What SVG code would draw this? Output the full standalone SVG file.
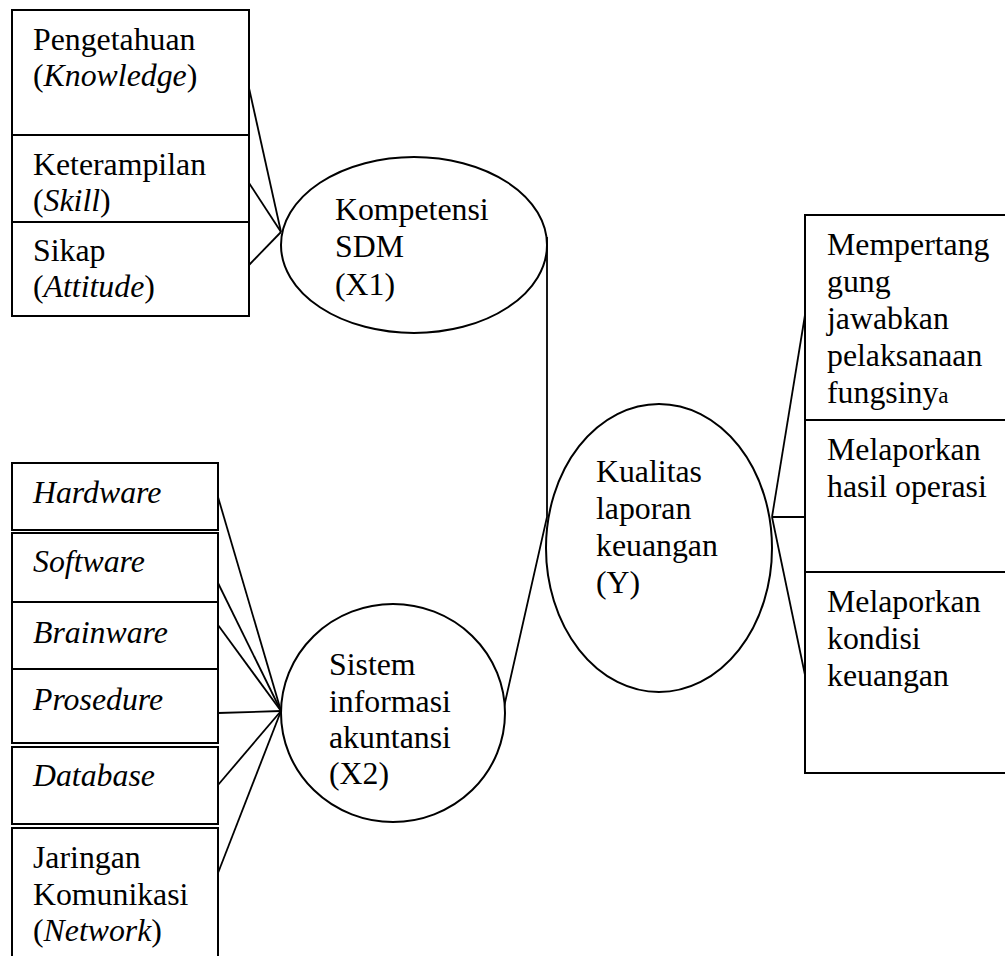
<svg xmlns="http://www.w3.org/2000/svg" width="1005" height="956" viewBox="0 0 1005 956">
<style>
.box{fill:#fff;stroke:#000;stroke-width:2}
.ell{fill:#fff;stroke:#000;stroke-width:2}
.con{fill:none;stroke:#000;stroke-width:1.8}
text{font-family:"Liberation Serif","Times New Roman",serif;font-size:31.8px;fill:#000}
.i{font-style:italic}
</style>
<rect width="1005" height="956" fill="#fff"/>
<g id="connectors">
<line class="con" x1="249" y1="88" x2="281" y2="232"/>
<line class="con" x1="249" y1="183" x2="281" y2="232"/>
<line class="con" x1="249" y1="265" x2="281" y2="232"/>
<polyline class="con" points="547,237 547,517 504,707"/>
<line class="con" x1="218" y1="497" x2="281" y2="711"/>
<line class="con" x1="218" y1="583" x2="281" y2="711"/>
<line class="con" x1="218" y1="625" x2="281" y2="711"/>
<line class="con" x1="218" y1="713" x2="281" y2="711"/>
<line class="con" x1="218" y1="785" x2="281" y2="711"/>
<line class="con" x1="218" y1="873" x2="281" y2="711"/>
<line class="con" x1="772" y1="517" x2="805" y2="315"/>
<line class="con" x1="772" y1="517" x2="805" y2="517"/>
<line class="con" x1="772" y1="517" x2="805" y2="675"/>
</g>
<g id="pengetahuan"><rect class="box" x="12" y="10" width="237" height="125"/><text x="33" y="50">Pengetahuan</text><text x="33" y="86">(<tspan class="i">Knowledge</tspan>)</text></g>
<g id="keterampilan"><rect class="box" x="12" y="135" width="237" height="87"/><text x="33" y="175">Keterampilan</text><text x="33" y="211">(<tspan class="i">Skill</tspan>)</text></g>
<g id="sikap"><rect class="box" x="12" y="222" width="237" height="94"/><text x="33" y="261">Sikap</text><text x="33" y="297">(<tspan class="i">Attitude</tspan>)</text></g>
<g id="x1"><ellipse class="ell" cx="414" cy="245" rx="133" ry="88"/><text x="335" y="220">Kompetensi</text><text x="335" y="257">SDM</text><text x="335" y="295">(X1)</text></g>
<g id="hardware"><rect class="box" x="12" y="463" width="206" height="67"/><text class="i" x="33" y="503">Hardware</text></g>
<g id="software"><rect class="box" x="12" y="533" width="206" height="69"/><text class="i" x="33" y="572">Software</text></g>
<g id="brainware"><rect class="box" x="12" y="602" width="206" height="67"/><text class="i" x="33" y="643">Brainware</text></g>
<g id="prosedure"><rect class="box" x="12" y="669" width="206" height="74"/><text class="i" x="33" y="710">Prosedure</text></g>
<g id="database"><rect class="box" x="12" y="747" width="206" height="77"/><text class="i" x="33" y="786">Database</text></g>
<g id="jaringan"><rect class="box" x="12" y="828" width="206" height="140"/><text x="33" y="868">Jaringan</text><text x="33" y="905">Komunikasi</text><text x="33" y="941">(<tspan class="i">Network</tspan>)</text></g>
<g id="x2"><ellipse class="ell" cx="393" cy="713" rx="112" ry="109"/><text x="329" y="675">Sistem</text><text x="329" y="712">informasi</text><text x="329" y="748">akuntansi</text><text x="329" y="784">(X2)</text></g>
<g id="y"><ellipse class="ell" cx="659" cy="548" rx="113" ry="144"/><text x="596" y="482">Kualitas</text><text x="596" y="519">laporan</text><text x="596" y="556">keuangan</text><text x="596" y="593">(Y)</text></g>
<g id="mempertanggungjawabkan"><rect class="box" x="805" y="215" width="210" height="205"/><text x="827" y="255">Mempertang</text><text x="827" y="292">gung</text><text x="827" y="329">jawabkan</text><text x="827" y="366">pelaksanaan</text><text x="827" y="403">fungsiny<tspan font-size="23">a</tspan></text></g>
<g id="hasil-operasi"><rect class="box" x="805" y="420" width="210" height="152"/><text x="827" y="460">Melaporkan</text><text x="827" y="497">hasil operasi</text></g>
<g id="kondisi-keuangan"><rect class="box" x="805" y="572" width="210" height="201"/><text x="827" y="612">Melaporkan</text><text x="827" y="649">kondisi</text><text x="827" y="686">keuangan</text></g>
</svg>
